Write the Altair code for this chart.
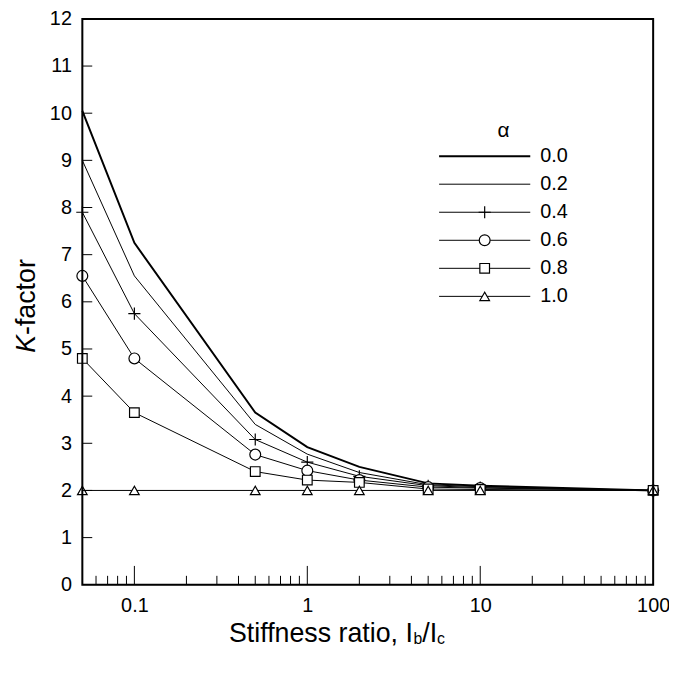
import altair as alt
import pandas as pd

# ---- data ----
stiffness = [0.05, 0.1, 0.5, 1, 2, 5, 10, 100]
alphas = ["0.0", "0.2", "0.4", "0.6", "0.8", "1.0"]
k_00 = [10.05, 7.25, 3.65, 2.92, 2.50, 2.15, 2.10, 2.00]
k_02 = [9.00, 6.55, 3.40, 2.77, 2.38, 2.12, 2.08, 2.00]
k_04 = [7.90, 5.75, 3.08, 2.60, 2.30, 2.10, 2.06, 2.00]
k_06 = [6.55, 4.80, 2.76, 2.42, 2.22, 2.07, 2.05, 2.00]
k_08 = [4.80, 3.65, 2.40, 2.22, 2.17, 2.03, 2.02, 2.00]
k_10 = [2.00, 2.00, 2.00, 2.00, 2.00, 2.00, 2.00, 2.00]
series = [k_00, k_02, k_04, k_06, k_08, k_10]

x_major = [0.1, 1, 10, 100]
x_minor = [0.06, 0.07, 0.08, 0.09,
           0.2, 0.3, 0.4, 0.5, 0.6, 0.7, 0.8, 0.9,
           2, 3, 4, 5, 6, 7, 8, 9,
           20, 30, 40, 50, 60, 70, 80, 90]
y_ticks = list(range(0, 13))

FONT = "Liberation Sans"
W, H = 576, 571
PLUS = "M-1,0L1,0M0,-1L0,1"
line_widths = {"0.0": 2.0}
marker_style = {  # alpha: (shape, size)
    "0.4": (PLUS, 150),
    "0.6": ("circle", 120),
    "0.8": ("square", 95),
    "1.0": ("triangle-up", 95),
}

rows = []
for a, ks in zip(alphas, series):
    for x, k in zip(stiffness, ks):
        rows.append({"x": x, "k": k, "alpha": a})
df = pd.DataFrame(rows)

xscale = alt.Scale(type="log", domain=[0.05, 100], nice=False)
yscale = alt.Scale(domain=[0, 12], nice=False, zero=False)

xaxis = alt.Axis(values=x_major, format="~g", ticks=False, domain=False,
                 grid=False, title=None, labelFontSize=20, labelFont=FONT,
                 labelColor="black", labelPadding=11, labelFlush=False,
                 labelOverlap=False)
yaxis = alt.Axis(values=y_ticks, ticks=False, domain=False, grid=False,
                 title=None, labelFontSize=20, labelFont=FONT,
                 labelColor="black", labelPadding=11, labelOverlap=False)


def X(field):
    return alt.X(field, scale=xscale, axis=xaxis)


def Y(field):
    return alt.Y(field, scale=yscale, axis=yaxis)


layers = []
for a in alphas:
    layers.append(
        alt.Chart(df).transform_filter(alt.datum.alpha == a)
        .mark_line(color="black", strokeWidth=line_widths.get(a, 1.0))
        .encode(x=X("x:Q"), y=Y("k:Q"))
    )
for a, (shp, sz) in marker_style.items():
    layers.append(
        alt.Chart(df).transform_filter(alt.datum.alpha == a)
        .mark_point(shape=shp, size=sz, filled=False, fill="white", fillOpacity=1,
                    stroke="black", strokeWidth=1.2, opacity=1)
        .encode(x=X("x:Q"), y=Y("k:Q"))
    )

minor_df = pd.DataFrame({"t": x_minor})
major_df = pd.DataFrame({"t": x_major[:-1]})
ytick_df = pd.DataFrame({"t": y_ticks[1:-1]})

xminor = alt.Chart(minor_df).mark_rule(color="black", strokeWidth=1).encode(
    x=X("t:Q"), y=alt.value(H), y2=alt.value(H - 9))
xmajor = alt.Chart(major_df).mark_rule(color="black", strokeWidth=1).encode(
    x=X("t:Q"), y=alt.value(H), y2=alt.value(H - 19))
yticks = alt.Chart(ytick_df).mark_rule(color="black", strokeWidth=1).encode(
    y=Y("t:Q"), x=alt.value(0), x2=alt.value(10))

main = alt.layer(*layers, yticks, xminor, xmajor)

one = alt.Data(values=[{}])

# ---- frame ----
frame = alt.Chart(one).mark_rect(fill=None, stroke="black", strokeWidth=2).encode(
    x=alt.value(0), x2=alt.value(W), y=alt.value(0), y2=alt.value(H))

# ---- legend (layout in pixels) ----
leg_rows = [{"alpha": a, "ly": 138.5 + i * 28.3} for i, a in enumerate(alphas)]
leg_df = pd.DataFrame(leg_rows)
ly = alt.Y("ly:Q", scale=None, axis=None)

leg_layers = []
for a in alphas:
    leg_layers.append(
        alt.Chart(leg_df).transform_filter(alt.datum.alpha == a)
        .mark_rule(color="black", strokeWidth=line_widths.get(a, 1.0))
        .encode(y=ly, x=alt.value(360), x2=alt.value(452))
    )
for a, (shp, sz) in marker_style.items():
    leg_layers.append(
        alt.Chart(leg_df).transform_filter(alt.datum.alpha == a)
        .mark_point(shape=shp, size=sz, filled=False, fill="white", fillOpacity=1,
                    stroke="black", strokeWidth=1.2, opacity=1)
        .encode(y=ly, x=alt.value(406))
    )
leg_text = alt.Chart(leg_df).mark_text(align="left", baseline="middle", font=FONT,
                                       fontSize=20, color="black").encode(
    y=ly, x=alt.value(462), text="alpha:N")
leg_title = alt.Chart(one).mark_text(
    text="α", align="center", baseline="alphabetic", font=FONT, fontSize=21, color="black"
).encode(x=alt.value(425), y=alt.value(119))

# ---- axis titles ----
yt_K = alt.Chart(one).mark_text(text="K", angle=270, align="left", baseline="alphabetic",
                                font=FONT, fontSize=27, fontStyle="italic", color="black"
                                ).encode(x=alt.value(-48), y=alt.value(337))
yt_rest = alt.Chart(one).mark_text(text="-factor", angle=270, align="left", baseline="alphabetic",
                                   font=FONT, fontSize=27, color="black"
                                   ).encode(x=alt.value(-48), y=alt.value(319))

TS, SS = 27, 16
base_y = 629
x0 = 148
w_main = 6.892 * TS
w_b = 0.556 * SS
w_slash = 0.556 * TS
xt1 = alt.Chart(one).mark_text(text="Stiffness ratio, I", align="left", baseline="alphabetic",
                               font=FONT, fontSize=TS, color="black").encode(x=alt.value(x0), y=alt.value(base_y))
xt2 = alt.Chart(one).mark_text(text="b", align="left", baseline="alphabetic",
                               font=FONT, fontSize=SS, color="black").encode(x=alt.value(x0 + w_main), y=alt.value(base_y + 2))
xt3 = alt.Chart(one).mark_text(text="/I", align="left", baseline="alphabetic",
                               font=FONT, fontSize=TS, color="black").encode(x=alt.value(x0 + w_main + w_b), y=alt.value(base_y))
xt4 = alt.Chart(one).mark_text(text="c", align="left", baseline="alphabetic",
                               font=FONT, fontSize=SS, color="black").encode(x=alt.value(x0 + w_main + w_b + w_slash), y=alt.value(base_y + 2))

deco = alt.layer(frame, *leg_layers, leg_text, leg_title, yt_K, yt_rest, xt1, xt2, xt3, xt4)

chart = alt.layer(main, deco).resolve_scale(
    x="independent", y="independent"
).properties(
    width=W, height=H,
    autosize=alt.AutoSizeParams(type="none"),
    padding={"left": 75, "top": 8, "right": 16, "bottom": 80},
).configure_view(strokeWidth=0).configure(background="white")

chart.save("out.html", embed_options={"renderer": "svg", "actions": False})
